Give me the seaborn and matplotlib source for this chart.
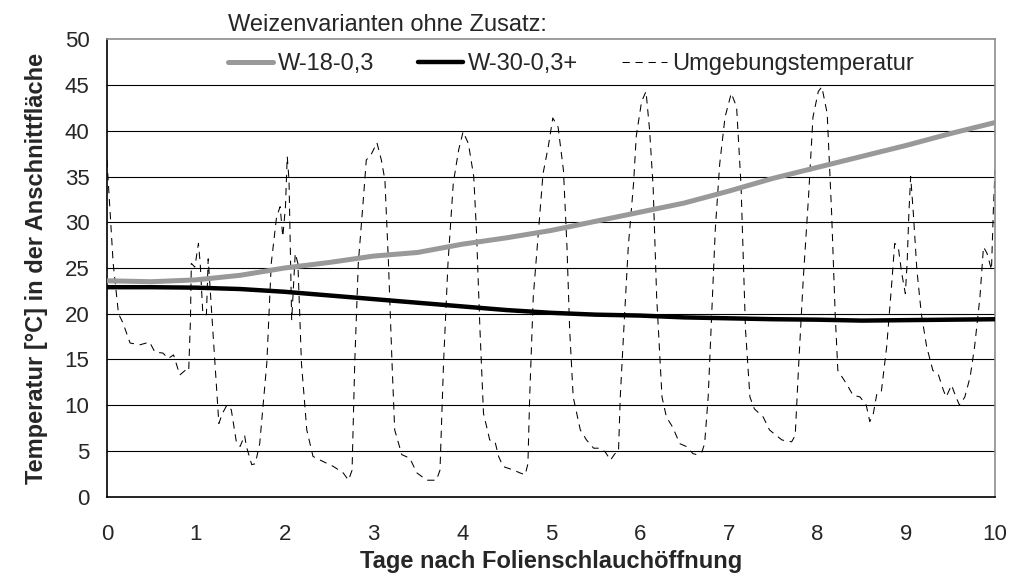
import matplotlib
matplotlib.use("Agg")
import matplotlib.pyplot as plt
import seaborn as sns
import pandas as pd

# Kernel temperature of the two wheat variants (sampled every half day)
var_tage = [0.0, 0.5, 1.0, 1.5, 2.0, 2.5, 3.0, 3.5, 4.0, 4.5, 5.0,
            5.5, 6.0, 6.5, 7.0, 7.5, 8.0, 8.5, 9.0, 9.5, 10.0]
w18 = [23.6, 23.5, 23.7, 24.2, 25.0, 25.6, 26.3, 26.7, 27.6, 28.3, 29.1,
       30.1, 31.1, 32.1, 33.4, 34.8, 36.0, 37.2, 38.4, 39.7, 40.9]
w30 = [22.9, 22.9, 22.85, 22.7, 22.4, 22.0, 21.6, 21.2, 20.8, 20.4, 20.1,
       19.9, 19.8, 19.6, 19.5, 19.4, 19.35, 19.25, 19.3, 19.35, 19.4]

# Ambient temperature
umg_tage = [0.00, 0.07, 0.13, 0.18, 0.26, 0.37, 0.48, 0.54, 0.63, 0.69, 0.75,
            0.82, 0.88, 0.92, 0.94, 0.95, 0.99, 1.03, 1.05, 1.08, 1.12, 1.14,
            1.26, 1.30, 1.35, 1.40, 1.46, 1.50, 1.55, 1.57, 1.63, 1.67, 1.72,
            1.80, 1.85, 1.91, 1.95, 1.98, 2.01, 2.03, 2.05, 2.08, 2.12, 2.15,
            2.19, 2.25, 2.32, 2.40, 2.55, 2.66, 2.72, 2.76, 2.79, 2.83, 2.89,
            2.92, 2.98, 3.04, 3.09, 3.13, 3.17, 3.21, 3.24, 3.32, 3.41, 3.49,
            3.60, 3.71, 3.75, 3.79, 3.84, 3.90, 3.96, 4.01, 4.07, 4.13, 4.16,
            4.20, 4.24, 4.31, 4.37, 4.41, 4.46, 4.58, 4.65, 4.71, 4.74, 4.76,
            4.80, 4.86, 4.91, 4.97, 5.02, 5.08, 5.14, 5.18, 5.21, 5.25, 5.33,
            5.40, 5.48, 5.55, 5.61, 5.67, 5.72, 5.76, 5.78, 5.82, 5.87, 5.93,
            5.96, 6.02, 6.07, 6.11, 6.15, 6.19, 6.25, 6.30, 6.37, 6.45, 6.52,
            6.60, 6.64, 6.70, 6.73, 6.77, 6.81, 6.85, 6.90, 6.96, 7.03, 7.09,
            7.14, 7.19, 7.24, 7.29, 7.39, 7.46, 7.60, 7.71, 7.75, 7.79, 7.84,
            7.90, 7.95, 8.01, 8.05, 8.11, 8.16, 8.20, 8.23, 8.33, 8.40, 8.48,
            8.55, 8.59, 8.63, 8.67, 8.72, 8.78, 8.84, 8.87, 8.91, 8.95, 8.99,
            9.01, 9.03, 9.05, 9.08, 9.12, 9.17, 9.23, 9.30, 9.36, 9.42, 9.45,
            9.51, 9.56, 9.60, 9.66, 9.72, 9.77, 9.83, 9.87, 9.91, 9.94, 9.96,
            9.98, 10.00]
umg_temp = [36.8, 25.5, 20.0, 19.0, 16.8, 16.6, 16.9, 15.8, 15.7, 15.1, 15.5,
            13.3, 13.8, 13.7, 19.3, 25.5, 25.1, 27.7, 25.5, 19.9, 19.9, 26.0,
            8.0, 9.1, 10.0, 9.5, 5.8, 5.5, 6.7, 5.5, 3.5, 3.6, 5.8,
            14.6, 25.5, 30.6, 31.7, 28.4, 31.7, 37.2, 34.6, 19.3, 26.6, 25.5,
            14.6, 7.3, 4.4, 4.0, 3.3, 2.6, 1.8, 2.9, 14.6, 25.5, 32.9,
            36.8, 37.5, 38.7, 36.8, 34.6, 25.5, 14.6, 7.3, 4.6, 4.2, 2.6,
            1.8, 1.8, 2.9, 14.6, 25.5, 34.3, 37.9, 39.9, 38.6, 35.0, 29.2,
            18.3, 9.1, 6.2, 6.0, 4.4, 3.3, 2.9, 2.6, 2.4, 3.6, 10.9,
            21.8, 29.2, 35.3, 38.3, 41.4, 40.4, 35.7, 27.3, 18.3, 10.9, 7.3,
            6.2, 5.3, 5.3, 4.9, 4.0, 4.7, 4.9, 10.9, 18.3, 27.3, 34.3,
            39.4, 43.2, 44.3, 40.1, 33.9, 21.8, 10.9, 8.7, 7.6, 5.8, 5.5,
            4.7, 4.6, 4.9, 5.8, 10.9, 20.0, 29.2, 36.4, 41.5, 44.1, 42.6,
            34.0, 18.3, 10.9, 9.6, 8.7, 7.3, 6.2, 6.0, 6.7, 14.6, 23.7,
            32.8, 41.5, 44.3, 44.8, 41.9, 31.0, 20.0, 13.8, 12.3, 11.1, 10.9,
            10.0, 8.2, 9.1, 11.3, 11.5, 16.4, 23.7, 27.7, 27.3, 24.4, 22.2,
            25.5, 31.0, 35.0, 31.0, 24.8, 20.0, 16.4, 13.8, 13.4, 11.6, 10.9,
            12.2, 10.9, 10.0, 10.9, 13.1, 16.4, 21.8, 27.3, 26.6, 25.5, 24.8,
            31.0, 35.7]

x_ticks = list(range(0, 11))
y_ticks = list(range(0, 51, 5))

sns.set_style("white")
plt.rcParams["font.family"] = ["Liberation Sans", "DejaVu Sans"]

fig = plt.figure(figsize=(10.11, 5.73), dpi=100)
ax = fig.add_axes([0.1058, 0.1332, 0.8784, 0.7982])

# horizontal grid
for y in y_ticks[1:-1]:
    ax.axhline(y, color="black", lw=0.8, zorder=0)

df_var = pd.DataFrame({"tag": var_tage, "w18": w18, "w30": w30})
df_umg = pd.DataFrame({"tag": umg_tage, "temp": umg_temp})

sns.lineplot(data=df_var, x="tag", y="w18", ax=ax, color="#999999",
             lw=3.6, label="W-18-0,3", estimator=None, zorder=3)
sns.lineplot(data=df_var, x="tag", y="w30", ax=ax, color="black",
             lw=3.2, label="W-30-0,3+", estimator=None, zorder=4)
sns.lineplot(data=df_umg, x="tag", y="temp", ax=ax, color="black",
             lw=0.75, label="Umgebungstemperatur", estimator=None, sort=False,
             zorder=2)
ax.lines[-1].set_linestyle((0, (7, 5.5)))

ax.set_xlim(0, 10)
ax.set_ylim(0, 50)
ax.set_xticks(x_ticks)
ax.set_yticks(y_ticks)
ax.tick_params(axis="both", direction="out", length=5.5, width=1,
               color="black", labelsize=16)
ax.tick_params(axis="y", pad=7)
ax.tick_params(axis="x", pad=14)

for side in ("top", "right"):
    ax.spines[side].set_color("#8c8c8c")
    ax.spines[side].set_linewidth(1.2)
for side in ("left", "bottom"):
    ax.spines[side].set_color("black")
    ax.spines[side].set_linewidth(1.2)

ax.set_xlabel("Tage nach Folienschlauchöffnung", fontsize=17, fontweight="bold",
              labelpad=4)
ax.set_ylabel("Temperatur [°C] in der Anschnittfläche", fontsize=17,
              fontweight="bold", labelpad=12)

leg = ax.legend(ncol=3, loc="upper left", bbox_to_anchor=(0.222, 0.981),
                bbox_transform=fig.transFigure, frameon=False,
                title="Weizenvarianten ohne Zusatz:", alignment="left",
                fontsize=17, title_fontsize=17, handlelength=1.9,
                handletextpad=0.22, columnspacing=1.85, labelspacing=0.7,
                borderaxespad=0, borderpad=0.15)

fig.savefig("out.png", dpi=100)
